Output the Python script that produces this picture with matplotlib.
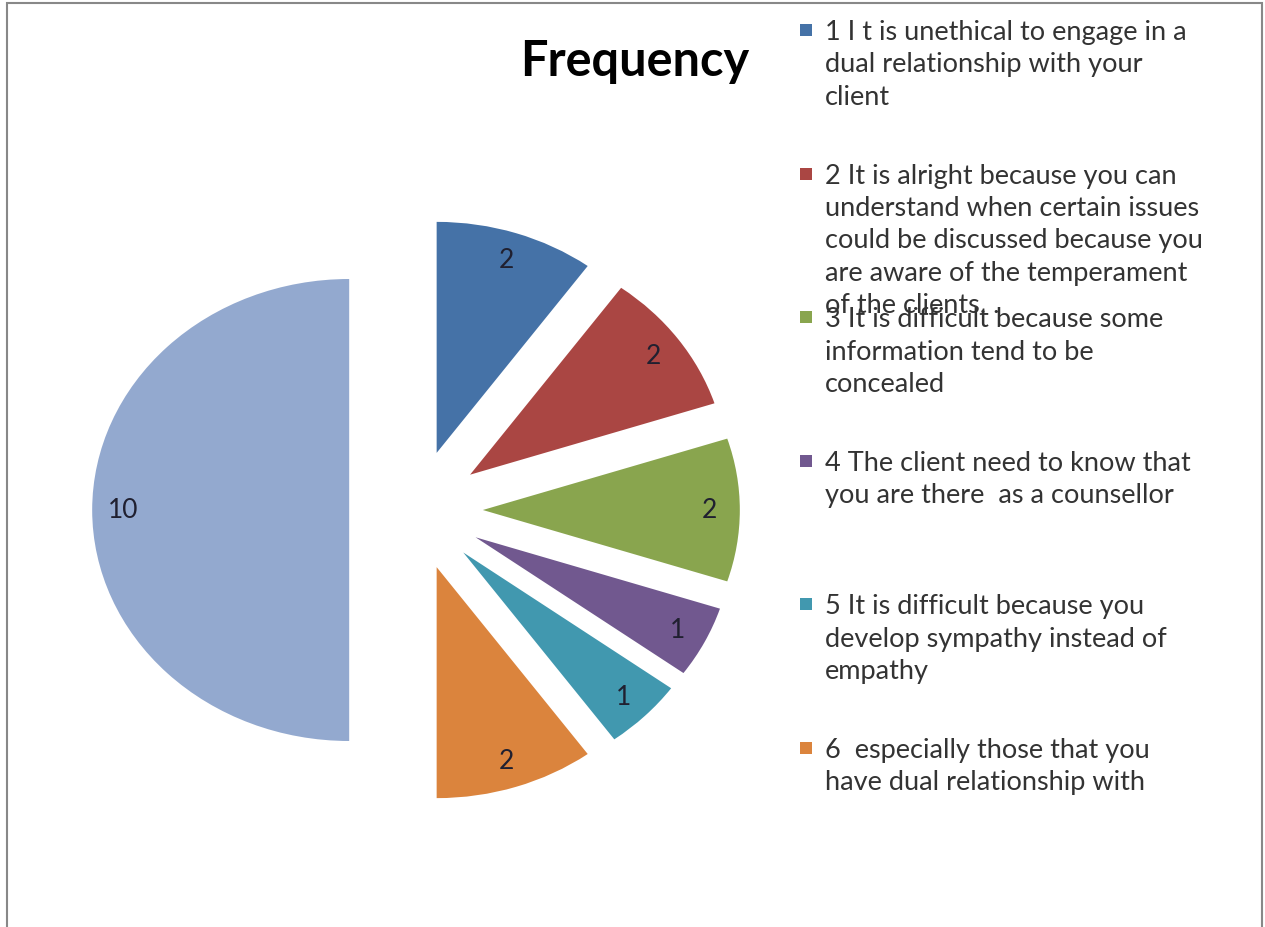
import matplotlib.pyplot as plt
from matplotlib.patches import Rectangle

# responses and how many people gave each
labels = [
    '1 I t is unethical to engage in a\ndual relationship with your\nclient',
    '2 It is alright because you can\nunderstand when certain issues\ncould be discussed because you\nare aware of the temperament\nof the clients. .',
    '3 It is difficult because some\ninformation tend to be\nconcealed',
    '4 The client need to know that\nyou are there  as a counsellor',
    '5 It is difficult because you\ndevelop sympathy instead of\nempathy',
    '6  especially those that you\nhave dual relationship with',
]
values = [2, 2, 2, 1, 1, 2, 10]
colors = ['#4572A7', '#AA4643', '#89A54E', '#71588F', '#4198AF', '#DB843D', '#93A9CF']

W, H = 1265, 928
fig = plt.figure(figsize=(W / 100, H / 100), dpi=100)
fig.patch.set_facecolor('white')

ax = fig.add_axes([0, 0, 1, 1])
cx, cy = 416, 511      # pie centre in pixels from top-left
rx, ry = 257, 231      # horizontal / vertical radius in pixels
total = sum(values)

ax.pie(values, colors=colors, startangle=90, counterclock=False,
       explode=[0.26] * len(values), radius=1.0,
       autopct=lambda p: '%d' % round(p * total / 100),
       pctdistance=0.88,
       textprops=dict(fontsize=19, color='#202030', family='Lato'),
       wedgeprops=dict(linewidth=0))
ax.set_aspect('auto')
ax.set_xlim(-cx / rx, (W - cx) / rx)
ax.set_ylim(-(H - cy) / ry, cy / ry)
ax.axis('off')

fig.text(635 / W, 1 - 62 / H, 'Frequency', ha='center', va='center',
         fontsize=35, fontweight='bold', family='Lato', color='black')

# legend entries on a fixed step
y0, step = 31, 143.6
for i, (lab, col) in enumerate(zip(labels, colors)):
    y = y0 + i * step
    fig.patches.append(Rectangle((800 / W, 1 - (y + 6) / H), 12 / W, 12 / H,
                                 transform=fig.transFigure, facecolor=col,
                                 edgecolor='none'))
    fig.text(825 / W, 1 - (y - 11) / H, lab, ha='left', va='top',
             fontsize=19.5, family='Lato', color='#333333', linespacing=1.37)

# outer frame
fig.patches.append(Rectangle((7 / W, -0.01), (1262 - 7) / W, 1 - 4 / H + 0.01,
                             transform=fig.transFigure, fill=False,
                             edgecolor='#888888', linewidth=1.5))

fig.savefig('out.png', dpi=100)
